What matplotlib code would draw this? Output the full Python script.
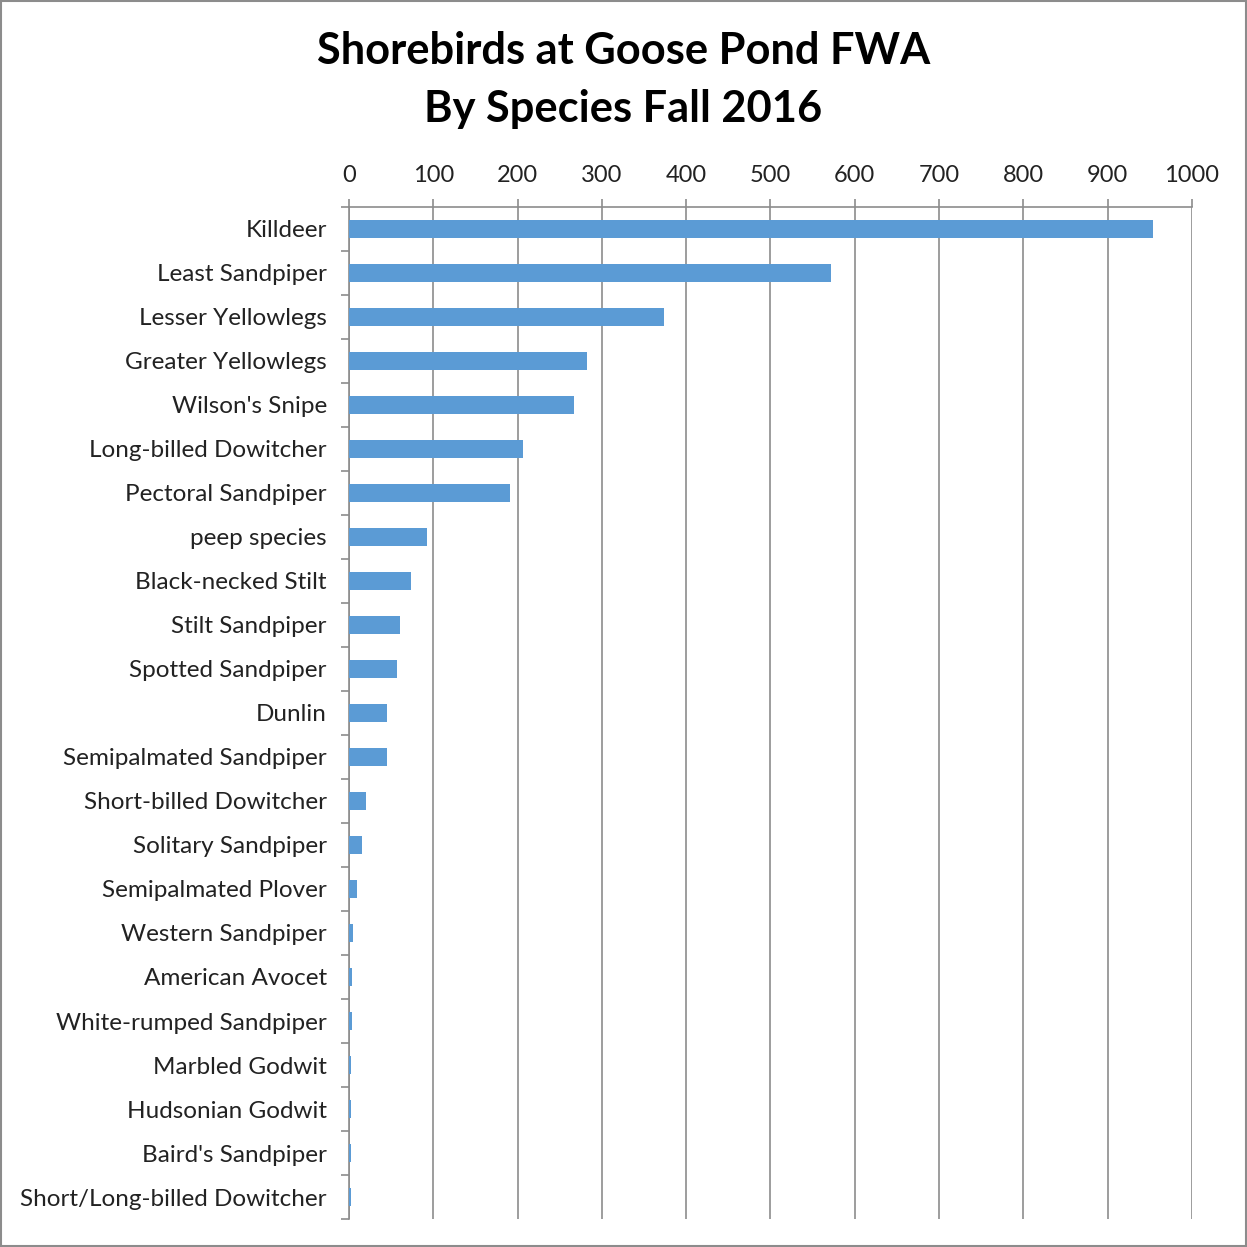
import numpy as np
import matplotlib

matplotlib.use('Agg')
import matplotlib.pyplot as plt
from matplotlib.patches import Rectangle

species = ["Killdeer", "Least Sandpiper", "Lesser Yellowlegs", "Greater Yellowlegs",
           "Wilson's Snipe", "Long-billed Dowitcher", "Pectoral Sandpiper", "peep species",
           "Black-necked Stilt", "Stilt Sandpiper", "Spotted Sandpiper", "Dunlin",
           "Semipalmated Sandpiper", "Short-billed Dowitcher", "Solitary Sandpiper",
           "Semipalmated Plover", "Western Sandpiper", "American Avocet",
           "White-rumped Sandpiper", "Marbled Godwit", "Hudsonian Godwit",
           "Baird's Sandpiper", "Short/Long-billed Dowitcher"]
counts = [954, 572, 374, 282, 267, 206, 191, 92, 74, 60, 57, 45, 45,
          20, 16, 10, 5, 3, 3, 2, 2, 2, 2]
x_ticks = [0, 100, 200, 300, 400, 500, 600, 700, 800, 900, 1000]

bar_color = '#5B9BD5'
grid_color = '#8C8C8C'
font = 'Lato'

fig = plt.figure(figsize=(12.47, 12.47), dpi=100)
ax = fig.add_axes([349 / 1247, 1 - 1219 / 1247, (1192 - 349) / 1247, (1219 - 207) / 1247])

pos = np.arange(len(species))
ax.barh(pos, counts, height=0.4, color=bar_color, zorder=3)
ax.set_ylim(len(species) - 0.5, -0.5)
ax.set_xlim(0, 1000)

# value axis on top, gridlines behind the bars
ax.xaxis.tick_top()
ax.set_xticks(x_ticks)
ax.set_xticklabels([str(t) for t in x_ticks], fontsize=17, family=font, color='#222222')
ax.tick_params(axis='x', length=6, width=1.2, color=grid_color, pad=9)
ax.grid(axis='x', color=grid_color, linewidth=1.2, zorder=0)

# category ticks sit between the bars
ax.set_yticks(pos)
ax.set_yticklabels(species, fontsize=17.5, family=font, color='#222222')
ax.set_yticks(np.arange(len(species) + 1) - 0.5, minor=True)
ax.tick_params(axis='y', which='major', length=0, pad=16)
ax.tick_params(axis='y', which='minor', length=6, width=1.2, color=grid_color)

for side in ['right', 'bottom']:
    ax.spines[side].set_visible(False)
for side in ['top', 'left']:
    ax.spines[side].set_color(grid_color)
    ax.spines[side].set_linewidth(1.2)

fig.text(0.5, 1 - 51 / 1247, 'Shorebirds at Goose Pond FWA', ha='center', va='center',
         fontsize=31.2, fontweight='bold', family=font)
fig.text(0.5, 1 - 109 / 1247, 'By Species Fall 2016', ha='center', va='center',
         fontsize=31.2, fontweight='bold', family=font)

# thin frame around the whole chart
fig.patches.append(Rectangle((0.0008, 0.0008), 0.9984, 0.9984, transform=fig.transFigure,
                             fill=False, edgecolor='#8C8C8C', linewidth=1.5))

plt.savefig('out.png', dpi=100)
